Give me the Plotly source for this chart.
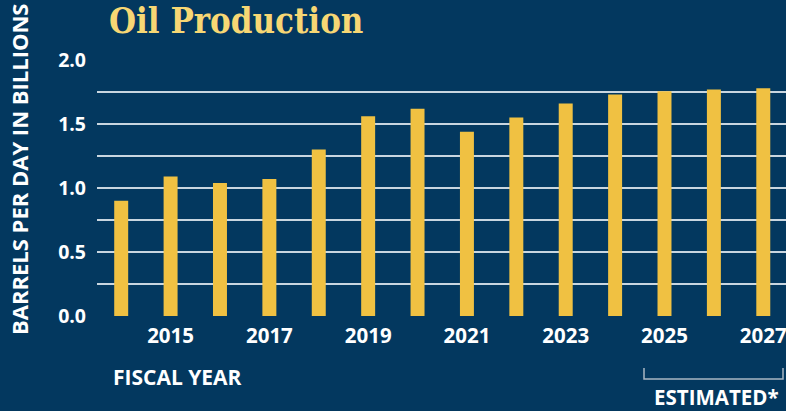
import plotly.graph_objects as go

years = [2014, 2015, 2016, 2017, 2018, 2019, 2020, 2021, 2022, 2023, 2024, 2025, 2026, 2027]
production = [0.90, 1.09, 1.04, 1.07, 1.30, 1.56, 1.62, 1.44, 1.55, 1.66, 1.73, 1.755, 1.77, 1.78]
x_tick_years = [2015, 2017, 2019, 2021, 2023, 2025, 2027]
y_tick_vals = [0, 0.25, 0.5, 0.75, 1.0, 1.25, 1.5, 1.75, 2.0]
y_tick_text = ["0.0", "", "0.5", "", "1.0", "", "1.5", "", "2.0"]

W, H = 786, 411
L, R, T, B = 97, 0, 60, 95
PW, PH = W - L - R, H - T - B

def px(x):
    return (x - L) / PW

def py(y):
    return (H - B - y) / PH

BG = "#03385f"
BAR = "#f0c142"
FONT = "Open Sans"

fig = go.Figure(go.Bar(x=years, y=production, width=0.283, marker=dict(color=BAR, line=dict(width=0))))

fig.update_layout(
    width=W, height=H,
    margin=dict(l=L, r=R, t=T, b=B, pad=0),
    paper_bgcolor=BG, plot_bgcolor=BG,
    showlegend=False,
    xaxis=dict(range=[2013.51, 2027.46], tickvals=x_tick_years, ticktext=[str(v) for v in x_tick_years],
               showgrid=False, zeroline=False, showline=False, ticks="", ticklabeloverflow="allow",
               tickfont=dict(family=FONT, size=20.5, color="white", weight=700), ticklabelstandoff=5),
    yaxis=dict(range=[0, 2.0], tickvals=y_tick_vals, ticktext=y_tick_text,
               showgrid=True, gridcolor="#c9d6e0", gridwidth=1.5, zeroline=False, showline=False, ticks="",
               tickfont=dict(family=FONT, size=19.5, color="white", weight=700), ticklabelstandoff=10),
    shapes=[dict(type="path", xref="paper", yref="paper",
                 path=f"M {px(644)} {py(368)} L {px(644)} {py(379)} L {px(783)} {py(379)} L {px(783)} {py(368)}",
                 line=dict(color="#a9b7c4", width=1.5))],
    annotations=[
        dict(text="Oil Production", xref="paper", yref="paper", x=px(107), y=py(21), xanchor="left", yanchor="middle",
             showarrow=False, font=dict(family="DejaVu Serif Condensed", size=34.5, color="#f7d774", weight=700)),
        dict(text="BARRELS PER DAY IN BILLIONS", xref="paper", yref="paper", x=px(19), y=py(170), textangle=-90,
             xanchor="center", yanchor="middle", showarrow=False,
             font=dict(family=FONT, size=22, color="white", weight=700)),
        dict(text="FISCAL YEAR", xref="paper", yref="paper", x=px(111), y=py(377), xanchor="left", yanchor="middle",
             showarrow=False, font=dict(family=FONT, size=21, color="white", weight=700)),
        dict(text="ESTIMATED*", xref="paper", yref="paper", x=px(652), y=py(397), xanchor="left", yanchor="middle",
             showarrow=False, font=dict(family=FONT, size=20.5, color="white", weight=700)),
    ],
)

fig.write_html("out.html")
